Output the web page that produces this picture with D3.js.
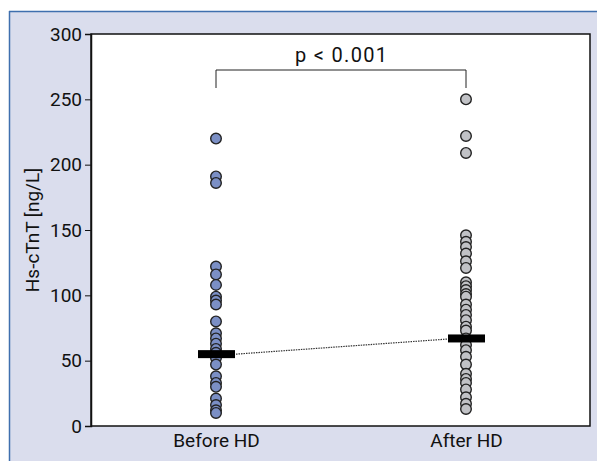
<!DOCTYPE html>
<html>
<head>
<meta charset="utf-8">
<script src="https://cdn.jsdelivr.net/npm/d3@7"></script>
<style>
  body { margin: 0; background: #fff; }
  svg text { font-family: Roboto, "Liberation Sans", sans-serif; fill: #111; }
</style>
</head>
<body>
<div id="chart"></div>
<script>
// data
let groups = ["Before HD", "After HD"];
let beforeValues = [220, 191, 186, 122, 116, 108, 99, 96, 93, 80, 71, 67, 63, 59, 56, 52, 47, 38, 33, 30, 21, 16, 12, 10];
let afterValues = [250, 222, 209, 146, 141, 137, 132, 126, 121, 110, 107, 104, 101, 99, 93, 89, 85, 81, 76, 73, 67, 62, 58, 53, 47, 40, 36, 33, 28, 22, 17, 13];
let medians = [55, 67];
let yTicks = [0, 50, 100, 150, 200, 250, 300];
let pLabel = "p < 0.001";

let width = 597, height = 461;
let margin = { top: 34, right: 7, bottom: 35, left: 91 };
let fills = ["#7b8fc5", "#c1c2c6"];
let font = "Roboto, 'Liberation Sans', sans-serif";

let svg = d3.select("#chart").append("svg")
  .attr("width", width)
  .attr("height", height);

// panel background + blue frame lines
svg.append("rect").attr("x", 9).attr("y", 11).attr("width", width - 9).attr("height", height - 11)
  .attr("fill", "#dadded");
svg.append("line").attr("x1", 9).attr("x2", width).attr("y1", 11.5).attr("y2", 11.5)
  .attr("stroke", "#3f6fae").attr("stroke-width", 1.5);
svg.append("line").attr("x1", 9.5).attr("x2", 9.5).attr("y1", 11).attr("y2", height)
  .attr("stroke", "#3f6fae").attr("stroke-width", 1.5);

let x = d3.scalePoint().domain(groups).range([216, 466]);
let y = d3.scaleLinear().domain([0, 300]).range([height - margin.bottom, margin.top]);

// plot area
svg.append("rect")
  .attr("x", margin.left).attr("y", margin.top)
  .attr("width", width - margin.right - margin.left)
  .attr("height", height - margin.bottom - margin.top)
  .attr("fill", "#fff").attr("stroke", "#111").attr("stroke-width", 1.5);

// y axis
let yAxis = svg.append("g")
  .attr("transform", "translate(" + margin.left + ",0)")
  .call(d3.axisLeft(y).tickValues(yTicks).tickSize(6).tickPadding(3));
yAxis.select(".domain").attr("stroke", "#111").attr("stroke-width", 1.5);
yAxis.selectAll(".tick line").attr("stroke", "#111");
yAxis.selectAll("text").attr("font-size", 19).attr("fill", "#111").style("font-family", font);

// x axis labels
let xAxis = svg.append("g")
  .attr("transform", "translate(0," + (height - margin.bottom) + ")")
  .call(d3.axisBottom(x).tickSize(0).tickPadding(8));
xAxis.select(".domain").remove();
xAxis.selectAll("text").attr("font-size", 19).attr("fill", "#111").style("font-family", font);

// y label
svg.append("text")
  .attr("transform", "translate(39," + ((margin.top + height - margin.bottom) / 2) + ") rotate(-90)")
  .attr("text-anchor", "middle")
  .attr("font-size", 19)
  .text("Hs-cTnT [ng/L]");

// significance bracket
let bracketY = 70, bracketDrop = 88;
svg.append("path")
  .attr("d", "M" + x(groups[0]) + "," + bracketDrop + "V" + bracketY + "H" + x(groups[1]) + "V" + bracketDrop)
  .attr("fill", "none").attr("stroke", "#222").attr("stroke-width", 1);
svg.append("text")
  .attr("x", (x(groups[0]) + x(groups[1])) / 2)
  .attr("y", 62)
  .attr("text-anchor", "middle")
  .attr("font-size", 20)
  .attr("textLength", 92)
  .attr("lengthAdjust", "spacing")
  .text(pLabel);

// dotted line between medians
svg.append("line")
  .attr("x1", x(groups[0]) + 20).attr("y1", y(medians[0]))
  .attr("x2", x(groups[1]) - 10).attr("y2", y(medians[1]))
  .attr("stroke", "#333").attr("stroke-width", 1.2).attr("stroke-dasharray", "1.5,1");

// dots
[beforeValues, afterValues].forEach(function (vals, i) {
  svg.append("g").selectAll("circle")
    .data(vals)
    .enter()
    .append("circle")
    .attr("cx", x(groups[i]))
    .attr("cy", function (d) { return y(d); })
    .attr("r", 5.3)
    .attr("fill", fills[i])
    .attr("stroke", "#222")
    .attr("stroke-width", 1.4);
});

// median bars
svg.append("g").selectAll("rect")
  .data(medians)
  .enter()
  .append("rect")
  .attr("x", function (d, i) { return x(groups[i]) - 18; })
  .attr("y", function (d) { return y(d) - 4; })
  .attr("width", 37)
  .attr("height", 8)
  .attr("fill", "#000");
</script>
</body>
</html>
